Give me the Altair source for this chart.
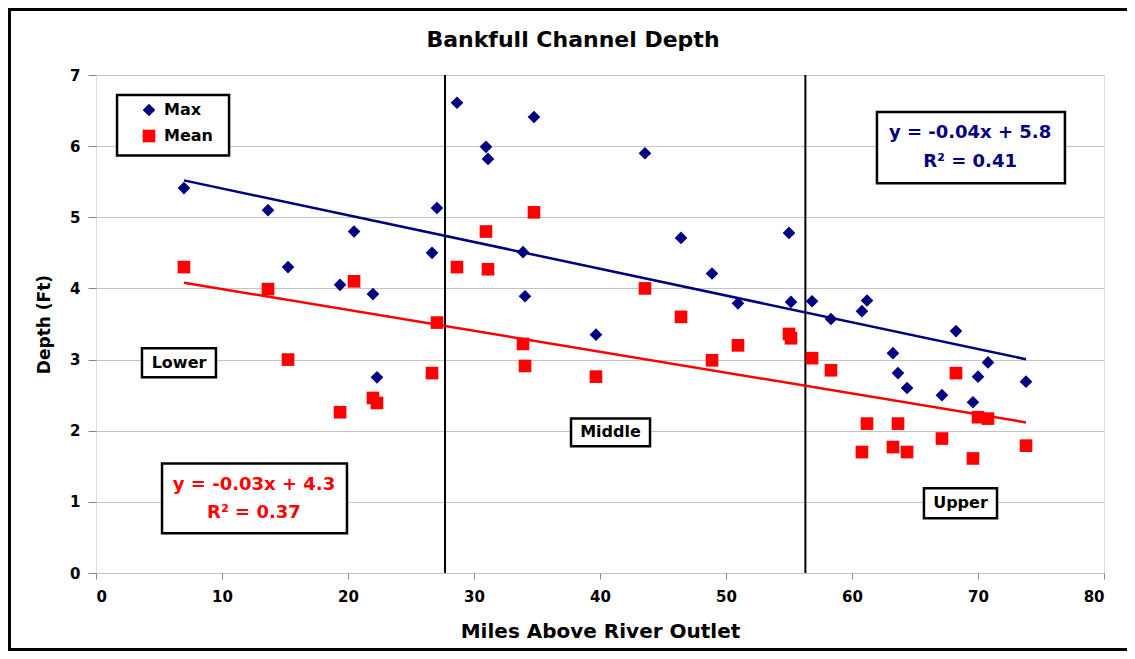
import altair as alt
import pandas as pd

# ---- data ----
miles = [6.98, 13.65, 15.24, 19.37, 20.48, 21.98, 22.30, 26.67, 27.06, 28.65,
         30.95, 31.11, 33.89, 34.05, 34.76, 39.68, 43.57, 46.43, 48.89, 50.95,
         55.00, 55.16, 56.83, 58.33, 60.79, 61.19, 63.25, 63.65, 64.37, 67.14,
         68.25, 69.60, 70.00, 70.79, 73.81]
max_depth = [5.41, 5.10, 4.30, 4.05, 4.80, 3.92, 2.75, 4.50, 5.13, 6.61,
             5.99, 5.82, 4.51, 3.89, 6.41, 3.35, 5.90, 4.71, 4.21, 3.79,
             4.78, 3.81, 3.82, 3.57, 3.68, 3.83, 3.09, 2.81, 2.60, 2.50,
             3.40, 2.40, 2.76, 2.96, 2.69]
mean_depth = [4.30, 3.99, 3.00, 2.26, 4.10, 2.46, 2.39, 2.81, 3.52, 4.30,
              4.80, 4.27, 3.22, 2.91, 5.07, 2.76, 4.00, 3.60, 2.99, 3.20,
              3.36, 3.30, 3.02, 2.85, 1.70, 2.10, 1.77, 2.10, 1.70, 1.89,
              2.81, 1.61, 2.19, 2.17, 1.79]
series_names = ["Max", "Mean"]
series_colors = ["#000080", "#FF0000"]
series_shapes = ["diamond", "square"]

divider_miles = [27.7, 56.3]

chart_title = "Bankfull Channel Depth"
region_labels = ["Lower", "Middle", "Upper"]
equation_lines = ["y = -0.04x + 5.8", "R\u00b2 = 0.41", "y = -0.03x + 4.3", "R\u00b2 = 0.37"]
equation_series = ["Max", "Max", "Mean", "Mean"]

x_ticks = [0, 10, 20, 30, 40, 50, 60, 70, 80]
y_ticks = [0, 1, 2, 3, 4, 5, 6, 7]

# ---- annotation layout (data units) ----
region_box = dict(x1=[3.65, 37.70, 65.71], x2=[9.52, 43.97, 71.51],
                  y1=[3.16, 2.17, 1.19], y2=[2.75, 1.78, 0.77])
region_text_pos = dict(x=[6.59, 40.83, 68.61], y=[2.95, 1.98, 0.98])
eq_box = dict(x1=[61.98, 5.24], x2=[76.90, 19.92], y1=[6.48, 1.54], y2=[5.48, 0.56])
eq_text_pos = dict(x=[69.37, 69.37, 12.54, 12.54], y=[6.18, 5.78, 1.23, 0.84])
legend_box = dict(x1=[1.67], x2=[10.56], y1=[6.72], y2=[5.87])

FONT = "DejaVu Sans"
W, H = 1008, 498

df = pd.DataFrame({
    "miles": miles * 2,
    "depth": max_depth + mean_depth,
    "series": ["Max"] * len(miles) + ["Mean"] * len(miles),
})

xs = alt.Scale(domain=[0, 80], nice=False)
ys = alt.Scale(domain=[0, 7], nice=False)
cs = alt.Scale(domain=series_names, range=series_colors)
ss = alt.Scale(domain=series_names, range=series_shapes)

leg = alt.Legend(title=None, orient="none", legendX=45, legendY=27,
                 symbolSize=160, symbolStrokeWidth=0, labelFontSize=16,
                 labelFont=FONT, labelFontWeight="bold", labelColor="black",
                 rowPadding=10, padding=0, labelOffset=7)

x_enc = alt.X("miles:Q", scale=xs, title="Miles Above River Outlet",
              axis=alt.Axis(values=x_ticks, grid=False, domain=False, tickSize=6,
                            tickColor="#888888", labelPadding=10, format="d",
                            labelFontSize=15, labelFont=FONT, labelFontWeight="bold",
                            labelColor="black", titleFontSize=20, titleFont=FONT,
                            titleFontWeight="bold", titleColor="black", titlePadding=17))
y_enc = alt.Y("depth:Q", scale=ys, title="Depth (Ft)",
              axis=alt.Axis(values=y_ticks, grid=True, gridColor="#c4c4c4", gridWidth=1,
                            domain=False, tickSize=8, tickColor="#888888", labelPadding=8,
                            format="d",
                            labelFontSize=15, labelFont=FONT, labelFontWeight="bold",
                            labelColor="black", titleFontSize=17, titleFont=FONT,
                            titleFontWeight="bold", titleColor="black", titlePadding=16))

frame = alt.Chart(alt.Data(values=[{}])).mark_rect(
    fill=None, stroke="black", strokeWidth=3, clip=False
).encode(x=alt.value(-86.5), x2=alt.value(1040), y=alt.value(-65.5), y2=alt.value(574.5))

title_text = alt.Chart(alt.Data(values=[{"t": chart_title}])).mark_text(
    font=FONT, fontWeight="bold", fontSize=22, color="black", baseline="alphabetic",
    align="center", clip=False
).encode(x=alt.value(477), y=alt.value(-28), text="t:N")

dividers = alt.Chart(pd.DataFrame({"m": divider_miles})).mark_rule(
    color="black", strokeWidth=2
).encode(x=alt.X("m:Q", scale=xs))

def boxes(b):
    d = pd.DataFrame(b)
    return alt.Chart(d).mark_rect(fill="white", stroke="black", strokeWidth=2.5).encode(
        x=alt.X("x1:Q", scale=xs), x2="x2:Q", y=alt.Y("y1:Q", scale=ys), y2="y2:Q")

points = alt.Chart(df).mark_point(filled=True, size=160, opacity=1, strokeWidth=0).encode(
    x=x_enc, y=y_enc,
    color=alt.Color("series:N", scale=cs, legend=leg),
    shape=alt.Shape("series:N", scale=ss, legend=leg),
)

trend = alt.Chart(df).transform_regression(
    "miles", "depth", groupby=["series"]
).mark_line(strokeWidth=2.5).encode(
    x=alt.X("miles:Q", scale=xs), y=alt.Y("depth:Q", scale=ys),
    color=alt.Color("series:N", scale=cs, legend=None),
)

region_text = alt.Chart(pd.DataFrame({"label": region_labels, **region_text_pos})).mark_text(
    font=FONT, fontWeight="bold", fontSize=16, color="black", baseline="middle"
).encode(x=alt.X("x:Q", scale=xs), y=alt.Y("y:Q", scale=ys), text="label:N")

eq_text = alt.Chart(pd.DataFrame({"label": equation_lines, "series": equation_series,
                                  **eq_text_pos})).mark_text(
    font=FONT, fontWeight="bold", fontSize=18, baseline="middle"
).encode(x=alt.X("x:Q", scale=xs), y=alt.Y("y:Q", scale=ys), text="label:N",
         color=alt.Color("series:N", scale=cs, legend=None))

chart = alt.layer(
    frame, title_text, dividers, boxes(region_box), boxes(eq_box), boxes(legend_box),
    points, trend, region_text, eq_text
).properties(
    width=W, height=H,
    autosize=alt.AutoSizeParams(type="none"),
    padding={"left": 88, "top": 67, "right": 23, "bottom": 78},
).configure_view(stroke="black", strokeWidth=3).configure(background="white")

chart.save("out.html", embed_options={"renderer": "svg", "actions": False})
